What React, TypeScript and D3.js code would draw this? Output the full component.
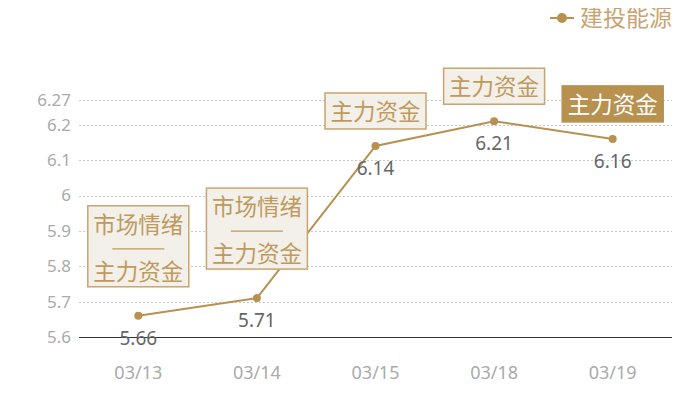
import { useEffect, useRef } from "react";
import * as d3 from "d3";

const dates = ["03/13", "03/14", "03/15", "03/18", "03/19"];
const prices = [5.66, 5.71, 6.14, 6.21, 6.16];
const tags = [
  ["市场情绪", "——", "主力资金"],
  ["市场情绪", "——", "主力资金"],
  ["主力资金"],
  ["主力资金"],
  ["主力资金"],
];
const highlighted = [false, false, false, false, true];
const yTicks = [5.6, 5.7, 5.8, 5.9, 6, 6.1, 6.2, 6.27];
const seriesName = "建投能源";

const W = 700,
  H = 400;
const margin = { top: 100, right: 28, bottom: 63, left: 79 };
const gold = "#b8914f";
const cjk = "'Noto Sans CJK SC', sans-serif";
const num = "'Noto Sans', 'Open Sans', sans-serif";

function App() {
  const svgRef = useRef(null);

  const buildSVG = () => {
    const root = d3.select(svgRef.current);
    root.selectAll("*").remove();

    const svg = root.attr("width", W).attr("height", H);

    const x = d3
      .scaleBand()
      .domain(dates)
      .range([margin.left, W - margin.right]);
    const y = d3
      .scaleLinear()
      .domain([5.6, 6.27])
      .range([H - margin.bottom, margin.top]);
    const cx = (d: string) => (x(d) as number) + x.bandwidth() / 2;

    // grid
    svg
      .append("g")
      .selectAll("line")
      .data(yTicks.filter((t) => t !== 5.6))
      .enter()
      .append("line")
      .attr("x1", margin.left)
      .attr("x2", W - margin.right)
      .attr("y1", (d) => Math.round(y(d)) + 0.5)
      .attr("y2", (d) => Math.round(y(d)) + 0.5)
      .attr("stroke", "#c8c8c8")
      .attr("stroke-dasharray", "2,2");

    // y labels
    svg
      .append("g")
      .selectAll("text")
      .data(yTicks)
      .enter()
      .append("text")
      .attr("x", margin.left - 8)
      .attr("y", (d) => y(d))
      .attr("dy", "0.35em")
      .attr("text-anchor", "end")
      .attr("fill", "#aaaaaa")
      .attr("font-family", num)
      .attr("font-size", 17)
      .text((d) => String(d));

    // x labels
    svg
      .append("g")
      .selectAll("text")
      .data(dates)
      .enter()
      .append("text")
      .attr("x", (d) => cx(d))
      .attr("y", H - margin.bottom + 42)
      .attr("text-anchor", "middle")
      .attr("fill", "#aaaaaa")
      .attr("font-family", num)
      .attr("font-size", 18)
      .text((d) => d);

    // axis line
    svg
      .append("line")
      .attr("x1", margin.left)
      .attr("x2", W - margin.right)
      .attr("y1", Math.round(y(5.6)) + 0.5)
      .attr("y2", Math.round(y(5.6)) + 0.5)
      .attr("stroke", "#333")
      .attr("stroke-width", 1);

    const line = d3
      .line<number>()
      .x((d, i) => cx(dates[i]))
      .y((d) => y(d));

    svg
      .append("path")
      .datum(prices)
      .attr("d", line)
      .attr("fill", "none")
      .attr("stroke", gold)
      .attr("stroke-width", 2);

    svg
      .append("g")
      .selectAll("circle")
      .data(prices)
      .enter()
      .append("circle")
      .attr("cx", (d, i) => cx(dates[i]))
      .attr("cy", (d) => y(d))
      .attr("r", 4)
      .attr("fill", gold);

    // value labels
    svg
      .append("g")
      .selectAll("text")
      .data(prices)
      .enter()
      .append("text")
      .attr("x", (d, i) => cx(dates[i]))
      .attr("y", (d) => y(d) + 29)
      .attr("text-anchor", "middle")
      .attr("fill", "#666")
      .attr("font-family", num)
      .attr("font-size", 19)
      .text((d) => d.toFixed(2));

    // annotation boxes
    const boxW = 101;
    prices.forEach((p, i) => {
      const lines = tags[i];
      const multi = lines.length > 1;
      const h = multi ? 81 : 36;
      const bottom = y(p) - (multi ? 29 : 17);
      const top = bottom - h;
      const left = cx(dates[i]) - boxW / 2;
      const tc = highlighted[i] ? "#ffffff" : "#bf9a5e";
      const g = svg.append("g").attr("font-family", cjk).attr("font-size", 22.5);
      g.append("rect")
        .attr("x", left)
        .attr("y", top)
        .attr("width", boxW)
        .attr("height", h)
        .attr("fill", highlighted[i] ? gold : "#f3efe9")
        .attr("stroke", highlighted[i] ? gold : "#c9a470")
        .attr("stroke-width", 1.5);
      if (multi) {
        g.append("text")
          .attr("x", cx(dates[i]))
          .attr("y", top + 27)
          .attr("text-anchor", "middle")
          .attr("fill", tc)
          .text(lines[0]);
        g.append("line")
          .attr("x1", cx(dates[i]) - 26)
          .attr("x2", cx(dates[i]) + 26)
          .attr("y1", top + 43)
          .attr("y2", top + 43)
          .attr("stroke", tc)
          .attr("stroke-width", 1.2);
        g.append("text")
          .attr("x", cx(dates[i]))
          .attr("y", top + 74)
          .attr("text-anchor", "middle")
          .attr("fill", tc)
          .text(lines[2]);
      } else {
        g.append("text")
          .attr("x", cx(dates[i]))
          .attr("y", top + 27)
          .attr("text-anchor", "middle")
          .attr("fill", tc)
          .text(lines[0]);
      }
    });

    // legend
    const lg = svg.append("g").attr("transform", "translate(550,18)");
    lg.append("line").attr("x1", 0).attr("x2", 24).attr("stroke", gold).attr("stroke-width", 2);
    lg.append("circle").attr("cx", 12).attr("r", 5).attr("fill", gold);
    lg.append("text")
      .attr("x", 30)
      .attr("dy", "0.35em")
      .attr("fill", "#c9a470")
      .attr("font-family", cjk)
      .attr("font-size", 23)
      .text(seriesName);
  };

  useEffect(buildSVG, []);

  return (
    <div style={{ margin: -8 }}>
      <svg ref={svgRef}></svg>
    </div>
  );
}

export default App;
